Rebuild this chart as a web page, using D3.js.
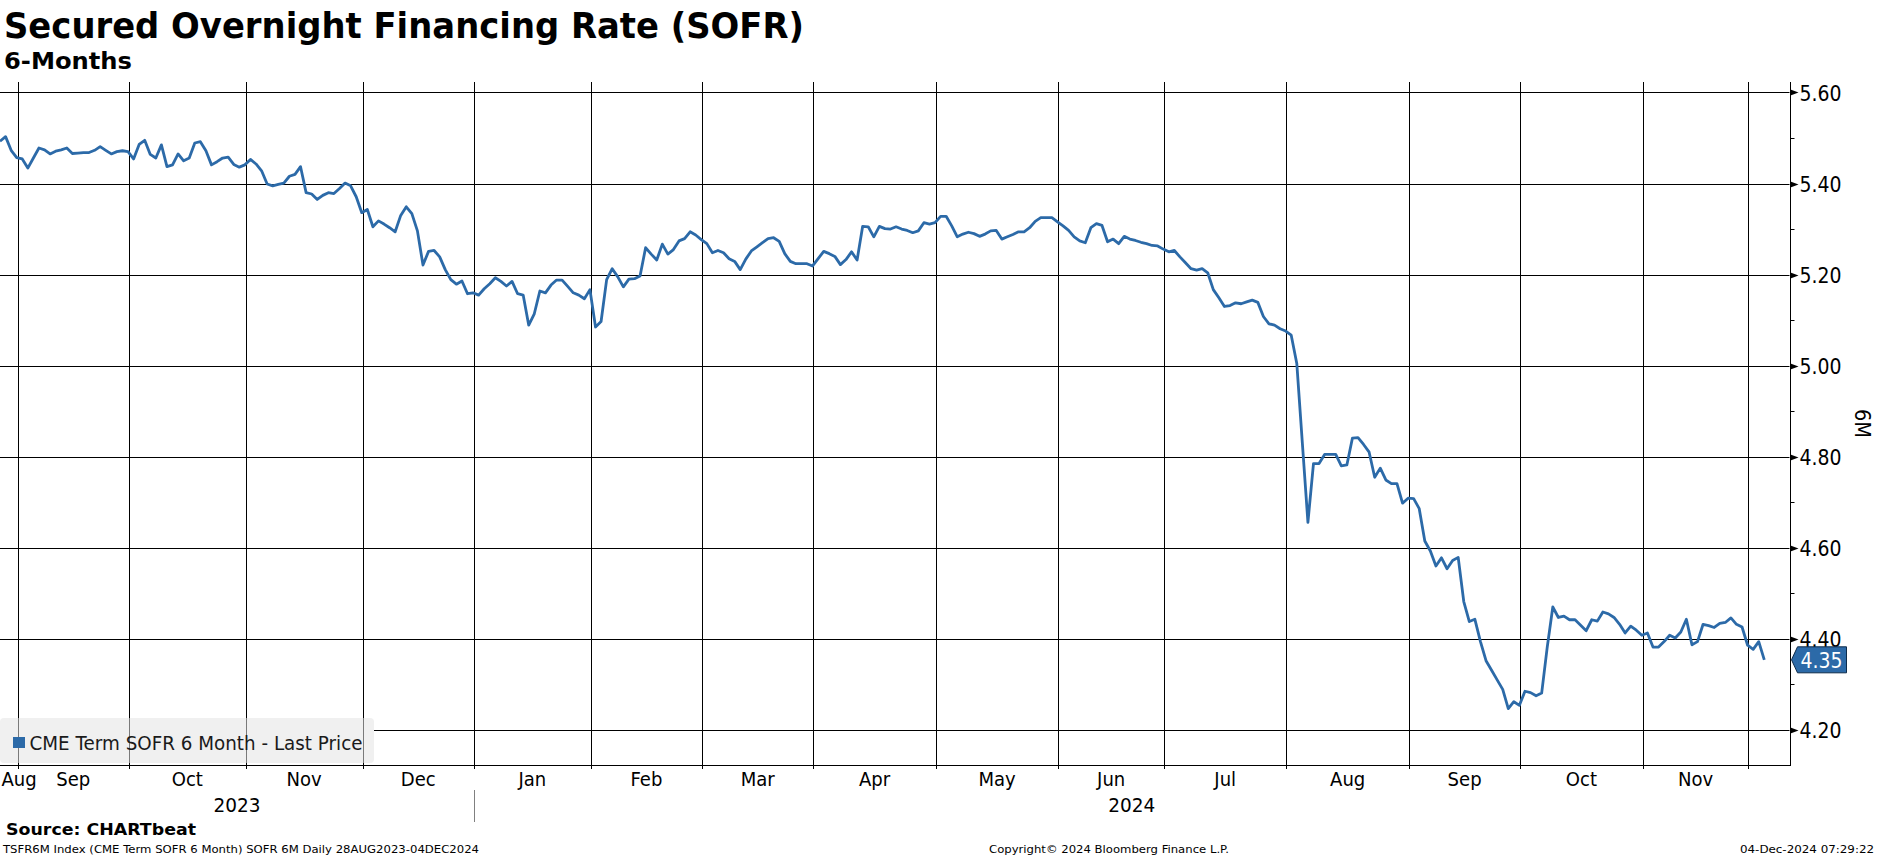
<!DOCTYPE html>
<html>
<head>
<meta charset="utf-8">
<script src="https://cdn.jsdelivr.net/npm/d3@7"></script>
<style>
html,body{margin:0;padding:0;background:#fff;overflow:hidden}
svg{display:block}
</style>
</head>
<body>
<svg id="chart" width="1877" height="859"></svg>
<script>
// ---------------- data ----------------
const titleText = "Secured Overnight Financing Rate (SOFR)";
const subtitleText = "6-Months";
const seriesName = "CME Term SOFR 6 Month - Last Price";
const axisName = "6M";
const sourceText = "Source: CHARTbeat";
const footerLeft = "TSFR6M Index (CME Term SOFR 6 Month) SOFR 6M  Daily 28AUG2023-04DEC2024";
const footerMid = "Copyright\u00A9 2024 Bloomberg Finance L.P.";
const footerRight = "04-Dec-2024 07:29:22";

const startDate = "2023-08-28";
const endDate = "2024-12-04";
const holidays = ["2023-09-04","2023-10-09","2023-11-23","2023-12-25","2024-01-01","2024-01-15",
  "2024-02-19","2024-03-29","2024-05-27","2024-06-19","2024-07-04","2024-09-02","2024-10-14",
  "2024-11-11","2024-11-28"];

const values = [
5.493,5.503,5.473,5.457,5.454,5.434,5.456,5.478,5.474,5.465,
5.471,5.474,5.478,5.466,5.467,5.468,5.468,5.473,5.481,5.473,
5.465,5.470,5.472,5.470,5.454,5.486,5.495,5.464,5.456,5.485,
5.437,5.441,5.465,5.450,5.456,5.489,5.492,5.472,5.441,5.448,
5.456,5.458,5.442,5.436,5.441,5.453,5.443,5.428,5.399,5.395,
5.398,5.401,5.416,5.420,5.437,5.380,5.377,5.365,5.374,5.380,
5.378,5.389,5.401,5.395,5.371,5.336,5.343,5.305,5.318,5.311,
5.303,5.294,5.330,5.349,5.334,5.296,5.221,5.251,5.253,5.239,
5.211,5.189,5.179,5.186,5.158,5.160,5.155,5.169,5.180,5.193,
5.185,5.175,5.185,5.158,5.155,5.089,5.114,5.164,5.160,5.177,
5.188,5.188,5.174,5.160,5.155,5.147,5.167,5.085,5.097,5.189,
5.213,5.195,5.173,5.190,5.191,5.197,5.259,5.245,5.232,5.267,
5.245,5.255,5.274,5.279,5.294,5.287,5.277,5.268,5.248,5.253,
5.248,5.235,5.229,5.211,5.234,5.252,5.261,5.270,5.279,5.281,
5.273,5.246,5.229,5.224,5.224,5.224,5.219,5.235,5.251,5.246,
5.240,5.222,5.233,5.250,5.232,5.306,5.305,5.283,5.306,5.301,
5.300,5.305,5.300,5.297,5.292,5.296,5.314,5.311,5.314,5.328,
5.328,5.307,5.283,5.289,5.293,5.290,5.284,5.289,5.296,5.297,
5.278,5.283,5.288,5.294,5.294,5.303,5.317,5.325,5.325,5.325,
5.316,5.307,5.297,5.283,5.274,5.270,5.303,5.312,5.308,5.272,
5.278,5.268,5.284,5.278,5.275,5.271,5.268,5.264,5.263,5.256,
5.250,5.253,5.239,5.226,5.213,5.210,5.213,5.204,5.167,5.149,
5.130,5.132,5.138,5.136,5.140,5.144,5.139,5.108,5.092,5.089,
5.081,5.076,5.067,5.005,4.830,4.656,4.785,4.785,4.805,4.805,
4.805,4.780,4.782,4.841,4.842,4.827,4.810,4.755,4.775,4.749,
4.741,4.741,4.698,4.709,4.708,4.686,4.615,4.593,4.560,4.578,
4.554,4.572,4.579,4.482,4.438,4.443,4.394,4.352,4.331,4.310,
4.289,4.247,4.262,4.254,4.285,4.282,4.275,4.281,4.382,4.470,
4.447,4.450,4.442,4.442,4.430,4.418,4.442,4.439,4.459,4.455,
4.447,4.432,4.413,4.428,4.419,4.408,4.413,4.382,4.382,4.394,
4.408,4.402,4.415,4.443,4.387,4.394,4.432,4.429,4.425,4.434,
4.436,4.446,4.432,4.426,4.386,4.377,4.394,4.354
];

const yTicks = [4.2, 4.4, 4.6, 4.8, 5.0, 5.2, 5.4, 5.6];
const yMinorTicks = [4.3, 4.5, 4.7, 4.9, 5.1, 5.3, 5.5];

// ---------------- layout ----------------
const plotLeft = 0, plotTop = 82, plotBottom = 765, axisX = 1789.5;
const lineEndX = 1764.3;
const lineColor = "#2c6aa8";
const FONT = "'DejaVu Sans', Verdana, sans-serif";

const svg = d3.select("#chart");

// trading days
const parse = d3.timeParse("%Y-%m-%d");
const fmtDay = d3.timeFormat("%Y-%m-%d");
const holidaySet = new Set(holidays);
const dates = d3.timeDay.range(parse(startDate), d3.timeDay.offset(parse(endDate), 1))
  .filter(d => d.getDay() !== 0 && d.getDay() !== 6 && !holidaySet.has(fmtDay(d)));
const n = Math.min(dates.length, values.length);
const data = d3.range(n).map(i => ({i, date: dates[i], v: values[i]}));

const x = d3.scaleLinear().domain([0, n - 1]).range([plotLeft, lineEndX]);
const y = d3.scaleLinear().domain([4.123, 5.623]).range([plotBottom, plotTop]);

function squeeze(sel, f) {
  sel.each(function () {
    const w = this.getComputedTextLength();
    d3.select(this).attr("textLength", w * f).attr("lengthAdjust", "spacingAndGlyphs");
  });
}
function fit(sel, w) { sel.attr("textLength", w).attr("lengthAdjust", "spacingAndGlyphs"); }

// month boundaries
const monthStarts = data.filter((d, k) => k === 0 || d.date.getMonth() !== data[k - 1].date.getMonth());
const gridX = d => x(d.i - 0.85);
const boundaries = monthStarts.filter(d => d.i > 0);

const g = svg.append("g");

// horizontal gridlines
g.selectAll("line.hgrid").data(yTicks).join("line")
  .attr("x1", plotLeft).attr("x2", axisX)
  .attr("y1", d => Math.round(y(d)) + 0.5).attr("y2", d => Math.round(y(d)) + 0.5)
  .attr("stroke", "#000").attr("stroke-width", 1);

// vertical gridlines (month starts) with small tick below axis
g.selectAll("line.vgrid").data(boundaries).join("line")
  .attr("x1", d => Math.round(gridX(d)) + 0.5).attr("x2", d => Math.round(gridX(d)) + 0.5)
  .attr("y1", plotTop).attr("y2", plotBottom + 4)
  .attr("stroke", "#000").attr("stroke-width", 1);

// bottom axis line
g.append("line").attr("x1", plotLeft).attr("x2", axisX + 0.5)
  .attr("y1", plotBottom + 0.5).attr("y2", plotBottom + 0.5).attr("stroke", "#000");
// right axis line
g.append("line").attr("x1", Math.round(axisX) + 0.5).attr("x2", Math.round(axisX) + 0.5)
  .attr("y1", plotTop).attr("y2", plotBottom + 1).attr("stroke", "#000");

// right axis arrows, minor ticks, labels
const ax0 = Math.round(axisX) + 0.5;
g.selectAll("path.arrow").data(yTicks).join("path")
  .attr("d", d => { const yy = Math.round(y(d)) + 0.5; return `M${ax0},${yy - 3}L${ax0 + 8},${yy}L${ax0},${yy + 3}Z`; })
  .attr("fill", "#000");
g.selectAll("line.minor").data(yMinorTicks).join("line")
  .attr("x1", ax0).attr("x2", ax0 + 4)
  .attr("y1", d => Math.round(y(d)) + 0.5).attr("y2", d => Math.round(y(d)) + 0.5)
  .attr("stroke", "#000");
g.selectAll("text.ylab").data(yTicks).join("text")
  .attr("x", axisX + 10).attr("y", d => y(d) + 8.5)
  .attr("font-family", FONT).attr("font-size", 20.5).attr("fill", "#000")
  .text(d => d3.format(".2f")(d))
  .call(fit, 42);

// axis name
svg.append("text")
  .attr("transform", `translate(1855,${(plotTop + plotBottom) / 2}) rotate(90)`)
  .attr("text-anchor", "middle")
  .attr("font-family", FONT).attr("font-size", 21).attr("fill", "#000")
  .text(axisName).call(squeeze, 0.92);

// data line
const line = d3.line().x(d => x(d.i)).y(d => y(d.v));
g.append("path").datum(data).attr("d", line)
  .attr("fill", "none").attr("stroke", lineColor).attr("stroke-width", 2.8)
  .attr("stroke-linejoin", "round");

// last value label
const last = data[n - 1];
const ly = y(last.v);
svg.append("path")
  .attr("d", `M${axisX + 2},${ly} L${axisX + 8},${ly - 13} L${axisX + 57},${ly - 13} L${axisX + 57},${ly + 13} L${axisX + 8},${ly + 13} Z`)
  .attr("fill", lineColor).attr("stroke", "#0d2b4a").attr("stroke-width", 1);
svg.append("text")
  .attr("x", axisX + 11).attr("y", ly + 8.5)
  .attr("font-family", FONT).attr("font-size", 20.5).attr("fill", "#fff")
  .text(d3.format(".2f")(last.v)).call(fit, 42);

// month labels
const fmtMon = d3.timeFormat("%b");
const segs = monthStarts.map((d, k) => {
  const x0 = k === 0 ? plotLeft : gridX(d);
  const x1 = k + 1 < monthStarts.length ? gridX(monthStarts[k + 1]) : axisX;
  const days = (k + 1 < monthStarts.length ? monthStarts[k + 1].i : n) - d.i;
  return {label: fmtMon(d.date), x0, x1, days, last: k === monthStarts.length - 1};
}).filter(s => !(s.last && s.days < 5));
svg.selectAll("text.mon").data(segs).join("text")
  .attr("font-family", FONT).attr("font-size", 19).attr("fill", "#000")
  .attr("y", 786)
  .text(s => s.label)
  .call(squeeze, 0.95)
  .each(function (s) {
    const w = +d3.select(this).attr("textLength");
    let cx = (s.x0 + s.x1) / 2;
    if (cx - w / 2 < 1.5) cx = 1.5 + w / 2;
    d3.select(this).attr("x", cx).attr("text-anchor", "middle");
  });

// year labels and separator
const years = d3.groups(data, d => d.date.getFullYear());
const yearSegs = years.map(([yr, arr], k) => {
  const x0 = k === 0 ? plotLeft : gridX(arr[0]);
  const x1 = k + 1 < years.length ? gridX(years[k + 1][1][0]) : axisX;
  return {yr, x0, x1, k};
});
svg.selectAll("text.yr").data(yearSegs).join("text")
  .attr("x", s => (s.x0 + s.x1) / 2).attr("y", 811.5)
  .attr("text-anchor", "middle")
  .attr("font-family", FONT).attr("font-size", 19.5).attr("fill", "#000")
  .text(s => s.yr).call(fit, 47);
svg.selectAll("line.ysep").data(yearSegs.filter(s => s.k > 0)).join("line")
  .attr("x1", s => Math.round(s.x0) + 0.5).attr("x2", s => Math.round(s.x0) + 0.5)
  .attr("y1", 790).attr("y2", 822).attr("stroke", "#808080");

// legend box
svg.append("rect").attr("x", 0).attr("y", 718).attr("width", 374).attr("height", 45)
  .attr("rx", 4).attr("fill", "#f0f0f0");
svg.selectAll("line.lgrid").data(boundaries.filter(d => gridX(d) < 374)).join("line")
  .attr("x1", d => Math.round(gridX(d)) + 0.5).attr("x2", d => Math.round(gridX(d)) + 0.5)
  .attr("y1", 718).attr("y2", 763).attr("stroke", "#7a7a7a");
svg.append("rect").attr("x", 13).attr("y", 737).attr("width", 12).attr("height", 11).attr("fill", lineColor);
svg.append("text").attr("x", 29.5).attr("y", 749.5)
  .attr("font-family", FONT).attr("font-size", 19.5).attr("fill", "#1a1a1a")
  .text(seriesName).call(fit, 333);

// titles
svg.append("text").attr("x", 4).attr("y", 38)
  .attr("font-family", FONT).attr("font-weight", "bold").attr("font-size", 36).attr("fill", "#000")
  .text(titleText).call(fit, 800);
svg.append("text").attr("x", 4).attr("y", 68.5)
  .attr("font-family", FONT).attr("font-weight", "bold").attr("font-size", 23.5).attr("fill", "#000")
  .text(subtitleText).call(fit, 128);

// footer
svg.append("text").attr("x", 6).attr("y", 835)
  .attr("font-family", FONT).attr("font-weight", "bold").attr("font-size", 16).attr("fill", "#000")
  .text(sourceText).call(fit, 190);
svg.append("text").attr("x", 3).attr("y", 853)
  .attr("font-family", FONT).attr("font-size", 10.5).attr("fill", "#000")
  .text(footerLeft).call(fit, 476);
svg.append("text").attr("x", 989).attr("y", 853)
  .attr("font-family", FONT).attr("font-size", 10.5).attr("fill", "#000")
  .text(footerMid).call(fit, 240);
svg.append("text").attr("x", 1740).attr("y", 853)
  .attr("font-family", FONT).attr("font-size", 10.5).attr("fill", "#000")
  .text(footerRight).call(fit, 134);
</script>
</body>
</html>
